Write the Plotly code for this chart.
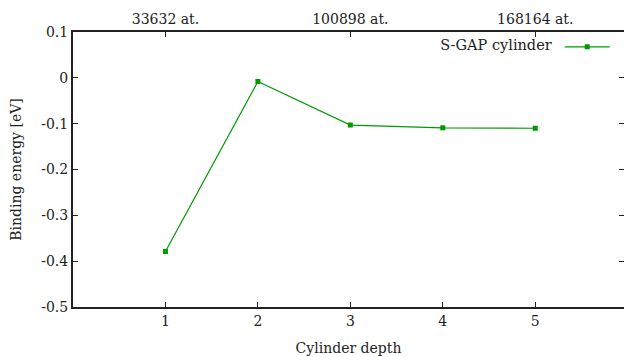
import plotly.graph_objects as go

depth = [1, 2, 3, 4, 5]
energy = [-0.379, -0.008, -0.103, -0.109, -0.110]
series_name = "S-GAP cylinder"
top_tick_vals = [1, 3, 5]
top_tick_labels = ["33632 at.", "100898 at.", "168164 at."]
y_tick_vals = [-0.5, -0.4, -0.3, -0.2, -0.1, 0, 0.1]
y_tick_labels = ["-0.5", "-0.4", "-0.3", "-0.2", "-0.1", "0", "0.1"]
x_tick_vals = [1, 2, 3, 4, 5]

FONT = "DejaVu Serif"
GREEN = "#009a00"
tf = dict(family=FONT, size=14, color="#222222")
lf = dict(family=FONT, size=14.5, color="#222222")

fig = go.Figure()
fig.add_trace(go.Scatter(
    x=depth, y=energy, mode="lines+markers", name="",
    line=dict(color=GREEN, width=1.2),
    marker=dict(symbol="square", size=5, color=GREEN),
    showlegend=True,
))
fig.add_trace(go.Scatter(x=depth, y=energy, xaxis="x2", mode="none",
                         showlegend=False, hoverinfo="skip"))
fig.add_trace(go.Scatter(x=depth, y=energy, yaxis="y2", mode="none",
                         showlegend=False, hoverinfo="skip"))

fig.update_layout(
    width=626, height=357,
    margin=dict(l=73, r=2, t=32, b=50),
    plot_bgcolor="white", paper_bgcolor="white",
    font=tf,
    xaxis=dict(range=[0, 5.96], tickvals=x_tick_vals, ticks="inside", ticklen=5,
               tickwidth=1, tickcolor="#222", showline=True, linecolor="#222",
               linewidth=2, showgrid=False, zeroline=False, mirror=False,
               tickfont=tf,
               title=dict(text="Cylinder depth", standoff=15, font=tf)),
    xaxis2=dict(range=[0, 5.96], overlaying="x", side="top", tickvals=top_tick_vals,
                ticktext=top_tick_labels, ticks="inside", ticklen=5, tickwidth=1,
                tickcolor="#222", showline=True, linecolor="#222", linewidth=2,
                showgrid=False, zeroline=False, tickfont=tf),
    yaxis=dict(range=[-0.5, 0.1], tickvals=y_tick_vals, ticktext=y_tick_labels,
               ticks="inside", ticklen=5, tickwidth=1, tickcolor="#222",
               showline=True, linecolor="#222", linewidth=2,
               showgrid=False, zeroline=False, tickfont=tf,
               title=dict(text="Binding energy [eV]", standoff=16, font=tf)),
    yaxis2=dict(range=[-0.5, 0.1], overlaying="y", side="right", tickvals=y_tick_vals,
                showticklabels=False, ticks="inside", ticklen=5, tickwidth=1,
                tickcolor="#222", showline=False, showgrid=False, zeroline=False),
    legend=dict(x=0.993, y=1.004, xanchor="right", yanchor="top",
                bgcolor="rgba(0,0,0,0)", itemwidth=45, font=lf,
                title=dict(text=series_name, side="left", font=lf)),
)

fig.write_html("out.html")
